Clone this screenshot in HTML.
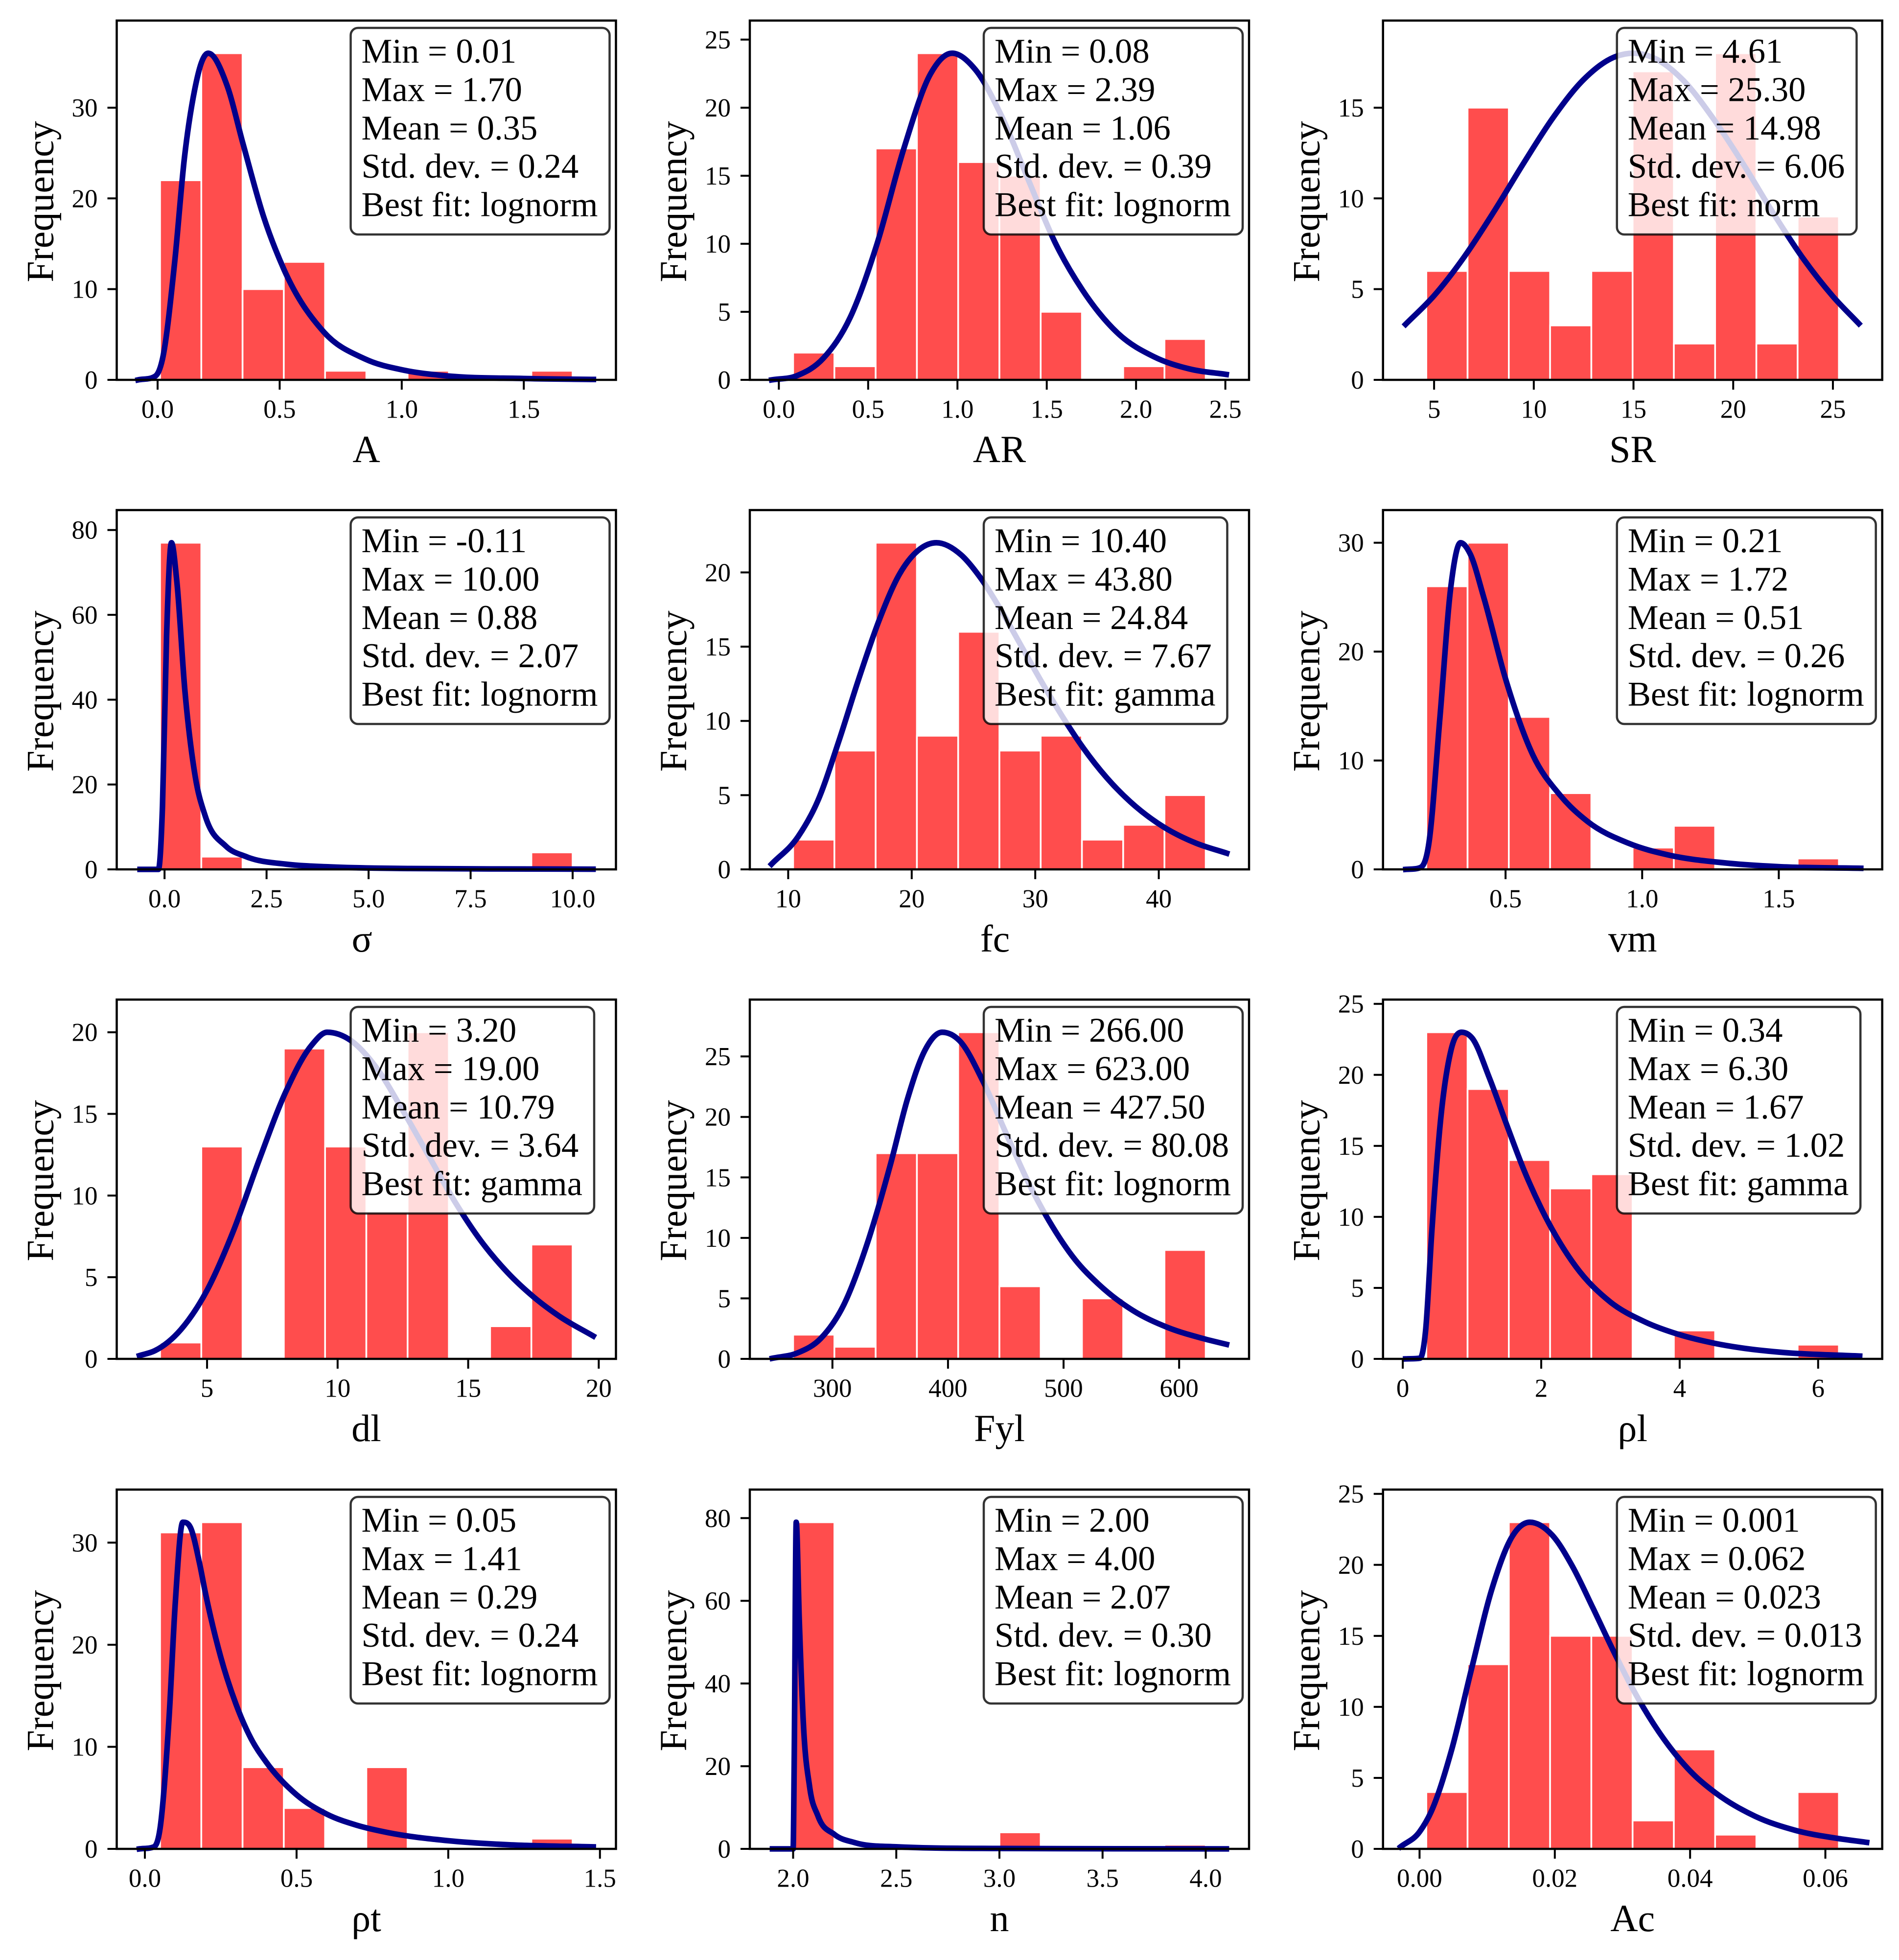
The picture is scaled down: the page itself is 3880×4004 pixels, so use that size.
<!DOCTYPE html>
<html lang="en">
<head>
<meta charset="utf-8">
<title>Distribution histograms</title>
<style>
html,body{margin:0;padding:0;background:#fff;}
svg{display:block;font-family:"Liberation Serif","DejaVu Serif",serif;}
</style>
</head>
<body>
<svg id="figure" xmlns="http://www.w3.org/2000/svg" width="3880" height="4004" viewBox="0 0 3880 4004"></svg>
<script>
const labels=['A','AR','SR','σ','fc','vm','dl','Fyl','ρl','ρt','n','Ac'];
const statMin=['0.01','0.08','4.61','-0.11','10.40','0.21','3.20','266.00','0.34','0.05','2.00','0.001'];
const statMax=['1.70','2.39','25.30','10.00','43.80','1.72','19.00','623.00','6.30','1.41','4.00','0.062'];
const statMean=['0.35','1.06','14.98','0.88','24.84','0.51','10.79','427.50','1.67','0.29','2.07','0.023'];
const statStd=['0.24','0.39','6.06','2.07','7.67','0.26','3.64','80.08','1.02','0.24','0.30','0.013'];
const statFit=['lognorm','lognorm','norm','lognorm','gamma','lognorm','gamma','lognorm','gamma','lognorm','lognorm','lognorm'];
const binCounts=[
[22,36,10,13,1,0,1,0,0,1],
[2,1,17,24,16,15,5,0,1,3],
[6,15,6,3,6,17,2,18,2,9],
[77,3,0,0,0,0,0,0,0,4],
[2,8,22,9,16,8,9,2,3,5],
[26,30,14,7,0,2,4,0,0,1],
[1,13,0,19,13,9,20,0,2,7],
[2,1,17,17,27,6,0,5,0,9],
[23,19,14,12,13,0,2,0,0,1],
[31,32,8,4,0,8,0,0,0,1],
[79,0,0,0,0,4,0,0,0,1],
[4,13,23,15,15,2,7,1,0,4]
];
const curveX=[
[-0.08,-0.01,0.02,0.07,0.11,0.152,0.18,0.207,0.285,0.35,0.434,0.517,0.68,0.85,1.01,1.18,1.5,1.785],
[-0.04,0.1,0.25,0.4,0.55,0.7,0.85,0.97,1.1,1.25,1.4,1.55,1.7,1.9,2.1,2.3,2.505],
[3.57,5,6.5,8,9.5,11,12.5,14,15,16,17.5,19,20.5,22,23.5,25,26.3],
[-0.6,-0.15,-0.05,0.05,0.17,0.3,0.5,0.75,1,1.5,2,3,4,6,8,10.5],
[8.65,10.8,12.4,14.1,15.7,17.4,19,20.7,22,24,25.6,27.2,28.9,30.5,32.5,33.8,35.8,37.7,40.4,43,45.5],
[0.135,0.18,0.22,0.26,0.3,0.335,0.37,0.42,0.5,0.6,0.7,0.8,0.95,1.1,1.3,1.5,1.8],
[2.41,3,4,5,6,7,8,9,9.6,10.5,11.5,12.5,13.5,14.5,15.5,16.5,17.5,18.5,19.79],
[248,270,290,310,330,350,365,380,395,410,430,450,470,490,510,530,560,590,620,641],
[0.042,0.25,0.33,0.42,0.55,0.7,0.85,1,1.25,1.5,1.75,2,2.5,3,3.5,4,4.5,5,5.5,6.6],
[-0.018,0.03,0.05,0.08,0.1,0.125,0.15,0.18,0.2,0.25,0.3,0.35,0.4,0.5,0.6,0.7,0.8,1,1.2,1.478],
[1.9,2,2.005,2.015,2.03,2.05,2.08,2.12,2.2,2.3,2.5,3,4.1],
[-0.0028,0,0.0017,0.0047,0.0077,0.0107,0.0137,0.0163,0.0196,0.0226,0.0256,0.0286,0.0316,0.0346,0.0376,0.0406,0.0436,0.0496,0.0556,0.0616,0.0661]
];
const curveY=[
[0,0.4,2.3,13,24.5,32,35,36,32.4,26,18,12.2,5.3,2.3,1.06,0.45,0.15,0.05],
[0,0.3,1.6,4.6,10,17,22.5,24,22.8,19.3,14.6,10,6.6,3.4,1.7,0.8,0.4],
[3.06,4.64,6.76,9.27,11.96,14.5,16.55,17.77,18,17.75,16.5,14.4,11.9,9.2,6.7,4.6,3.1],
[0,0,15,55,77,68,42,22,12.5,5.5,3,1.2,0.6,0.2,0.1,0.05],
[0.35,2.2,4.62,8.64,12.8,16.86,19.87,21.6,22,21.18,19.6,17.5,15,12.65,9.9,8.28,6.16,4.55,2.85,1.77,1.09],
[0,0.1,2.5,14,26,30,29,25,17.5,10.5,6.8,4.4,2.4,1.3,0.6,0.25,0.1],
[0.2,0.5,1.8,4.2,7.8,12.2,16.3,19.2,20,19.5,17.8,15.2,12.4,9.6,7.2,5.3,3.8,2.6,1.4],
[0.05,0.5,1.7,4.5,9.5,16,21.5,25.5,27,26.3,23,18.7,14.5,11,8.2,6.2,4,2.6,1.7,1.2],
[0,0.05,2,9,17,21.8,23,22.6,19.8,16.5,13.3,10.6,6.5,4,2.6,1.7,1.1,0.7,0.45,0.2],
[0,0.2,2,13,24,32,31.5,28,25,18.8,14.2,10.8,8.5,5.3,3.4,2.3,1.6,0.8,0.4,0.2],
[0,0,20,79,55,30,15,8,3.5,1.5,0.5,0.1,0],
[0.15,1.2,2.6,6.9,12.7,18.3,22,23,22.1,19.9,17,14,11.2,8.8,6.8,5.2,4,2.3,1.3,0.75,0.46]
];
const xTicks=[
[0,0.5,1,1.5],[0,0.5,1,1.5,2,2.5],[5,10,15,20,25],
[0,2.5,5,7.5,10],[10,20,30,40],[0.5,1,1.5],
[5,10,15,20],[300,400,500,600],[0,2,4,6],
[0,0.5,1,1.5],[2,2.5,3,3.5,4],[0,0.02,0.04,0.06]
];
const xTickLabels=[
['0.0','0.5','1.0','1.5'],['0.0','0.5','1.0','1.5','2.0','2.5'],['5','10','15','20','25'],
['0.0','2.5','5.0','7.5','10.0'],['10','20','30','40'],['0.5','1.0','1.5'],
['5','10','15','20'],['300','400','500','600'],['0','2','4','6'],
['0.0','0.5','1.0','1.5'],['2.0','2.5','3.0','3.5','4.0'],['0.00','0.02','0.04','0.06']
];
const yTicks=[
[0,10,20,30],[0,5,10,15,20,25],[0,5,10,15],
[0,20,40,60,80],[0,5,10,15,20],[0,10,20,30],
[0,5,10,15,20],[0,5,10,15,20,25],[0,5,10,15,20,25],
[0,10,20,30],[0,20,40,60,80],[0,5,10,15,20,25]
];

const svg=document.getElementById('figure');
const NS='http://www.w3.org/2000/svg';
const colLeft=[238.5,1532,2825.7];
const rowTop=[42,1042,2042,3043];
const plotW=1020,plotH=734;

function make(tag,attrs,parent){
  const el=document.createElementNS(NS,tag);
  for(const k in attrs){el.setAttribute(k,attrs[k]);}
  parent.appendChild(el);
  return el;
}
function smoothPath(px,py){
  const n=px.length,d=[],m=[];
  for(let i=0;i<n-1;i++){d.push((py[i+1]-py[i])/(px[i+1]-px[i]));}
  m.push(d[0]);
  for(let i=1;i<n-1;i++){
    if(d[i-1]*d[i]<=0){m.push(0);}
    else{
      const h0=px[i]-px[i-1],h1=px[i+1]-px[i];
      const t=(h1*d[i-1]+h0*d[i])/(h0+h1);
      const lim=3*Math.min(Math.abs(d[i-1]),Math.abs(d[i]));
      m.push(Math.sign(t)*Math.min(Math.abs(t),lim));
    }
  }
  m.push(d[n-2]);
  let p='M'+px[0].toFixed(2)+' '+py[0].toFixed(2);
  for(let i=0;i<n-1;i++){
    const h=(px[i+1]-px[i])/3;
    p+='C'+(px[i]+h).toFixed(2)+' '+(py[i]+m[i]*h).toFixed(2)+' '+(px[i+1]-h).toFixed(2)+' '+(py[i+1]-m[i+1]*h).toFixed(2)+' '+px[i+1].toFixed(2)+' '+py[i+1].toFixed(2);
  }
  return p;
}

labels.forEach(function(label,idx){
  const left=colLeft[idx%3],top=rowTop[Math.floor(idx/3)];
  const bottom=top+plotH,right=left+plotW;
  const slug='panel-'+(idx+1);
  const dataMin=parseFloat(statMin[idx]),dataMax=parseFloat(statMax[idx]);
  const range=dataMax-dataMin;
  const curveLo=dataMin-0.05*range,curveHi=dataMax+0.05*range;
  const pad=0.05*(curveHi-curveLo);
  const xMin=curveLo-pad,xMax=curveHi+pad;
  const yMax=Math.max.apply(null,curveY[idx].concat(binCounts[idx]))*1.1;
  const xScale=function(v){return left+(v-xMin)/(xMax-xMin)*plotW;};
  const yScale=function(v){return bottom-v/yMax*plotH;};

  const g=make('g',{},svg);
  
  

  const binW=range/binCounts[idx].length;
  binCounts[idx].forEach(function(c,b){
    if(c===0){return;}
    const x0=xScale(dataMin+b*binW),x1=xScale(dataMin+(b+1)*binW);
    const bar=make('rect',{x:x0.toFixed(2),y:yScale(c).toFixed(2),width:(x1-x0).toFixed(2),height:(bottom-yScale(c)).toFixed(2),fill:'#ff4d4d',stroke:'#fff','stroke-width':3.5},g);
    
    
  });

  const curve=make('path',{d:smoothPath(curveX[idx].map(xScale),curveY[idx].map(yScale)),fill:'none',stroke:'#00008b','stroke-width':11.5,'stroke-linejoin':'round','stroke-linecap':'square'},g);
  
  

  const box=make('rect',{x:left+478,y:top+15,height:422,width:500,rx:15,ry:15,fill:'#fff','fill-opacity':0.8,stroke:'#000','stroke-opacity':0.8,'stroke-width':4.5},g);
  
  

  const lines=['Min = '+statMin[idx],'Max = '+statMax[idx],'Mean = '+statMean[idx],'Std. dev. = '+statStd[idx],'Best fit: '+statFit[idx]];
  let widest=0;
  lines.forEach(function(line,li){
    const t=make('text',{x:left+500,y:top+86+li*78.4,'font-size':70.7,fill:'#000'},g);
    t.textContent=line;
    
    
    widest=Math.max(widest,t.getComputedTextLength());
  });
  box.setAttribute('width',(widest+46).toFixed(1));

  xTicks[idx].forEach(function(v,i){
    const x=xScale(v);
    const tick=make('line',{x1:x,x2:x,y1:bottom,y2:bottom+20,stroke:'#000','stroke-width':4},g);
    
    
    const t=make('text',{x:x,y:bottom+77.5,'font-size':53,'text-anchor':'middle',fill:'#000'},g);
    t.textContent=xTickLabels[idx][i];
    
    
  });
  yTicks[idx].forEach(function(v){
    const y=yScale(v);
    const tick=make('line',{x1:left-19,x2:left,y1:y,y2:y,stroke:'#000','stroke-width':4},g);
    
    
    const t=make('text',{x:left-39,y:y+18,'font-size':53,'text-anchor':'end',fill:'#000'},g);
    t.textContent=String(v);
    
    
  });

  const frame=make('rect',{x:left,y:top,width:plotW,height:plotH,fill:'none',stroke:'#000','stroke-width':4.5},g);
  
  

  const nudge=(label==='σ'||label==='fc')?-9:0;
  const xl=make('text',{x:(left+right)/2+nudge,y:bottom+168,'font-size':78,'text-anchor':'middle',fill:'#000'},g);
  xl.textContent=label;
  
  

  const cy=top+plotH/2+3;
  const yl=make('text',{x:0,y:0,transform:'translate('+(left-130)+' '+cy+') rotate(-90)','font-size':78,'text-anchor':'middle',fill:'#000'},g);
  yl.textContent='Frequency';
  
  
});
</script>
</body>
</html>
